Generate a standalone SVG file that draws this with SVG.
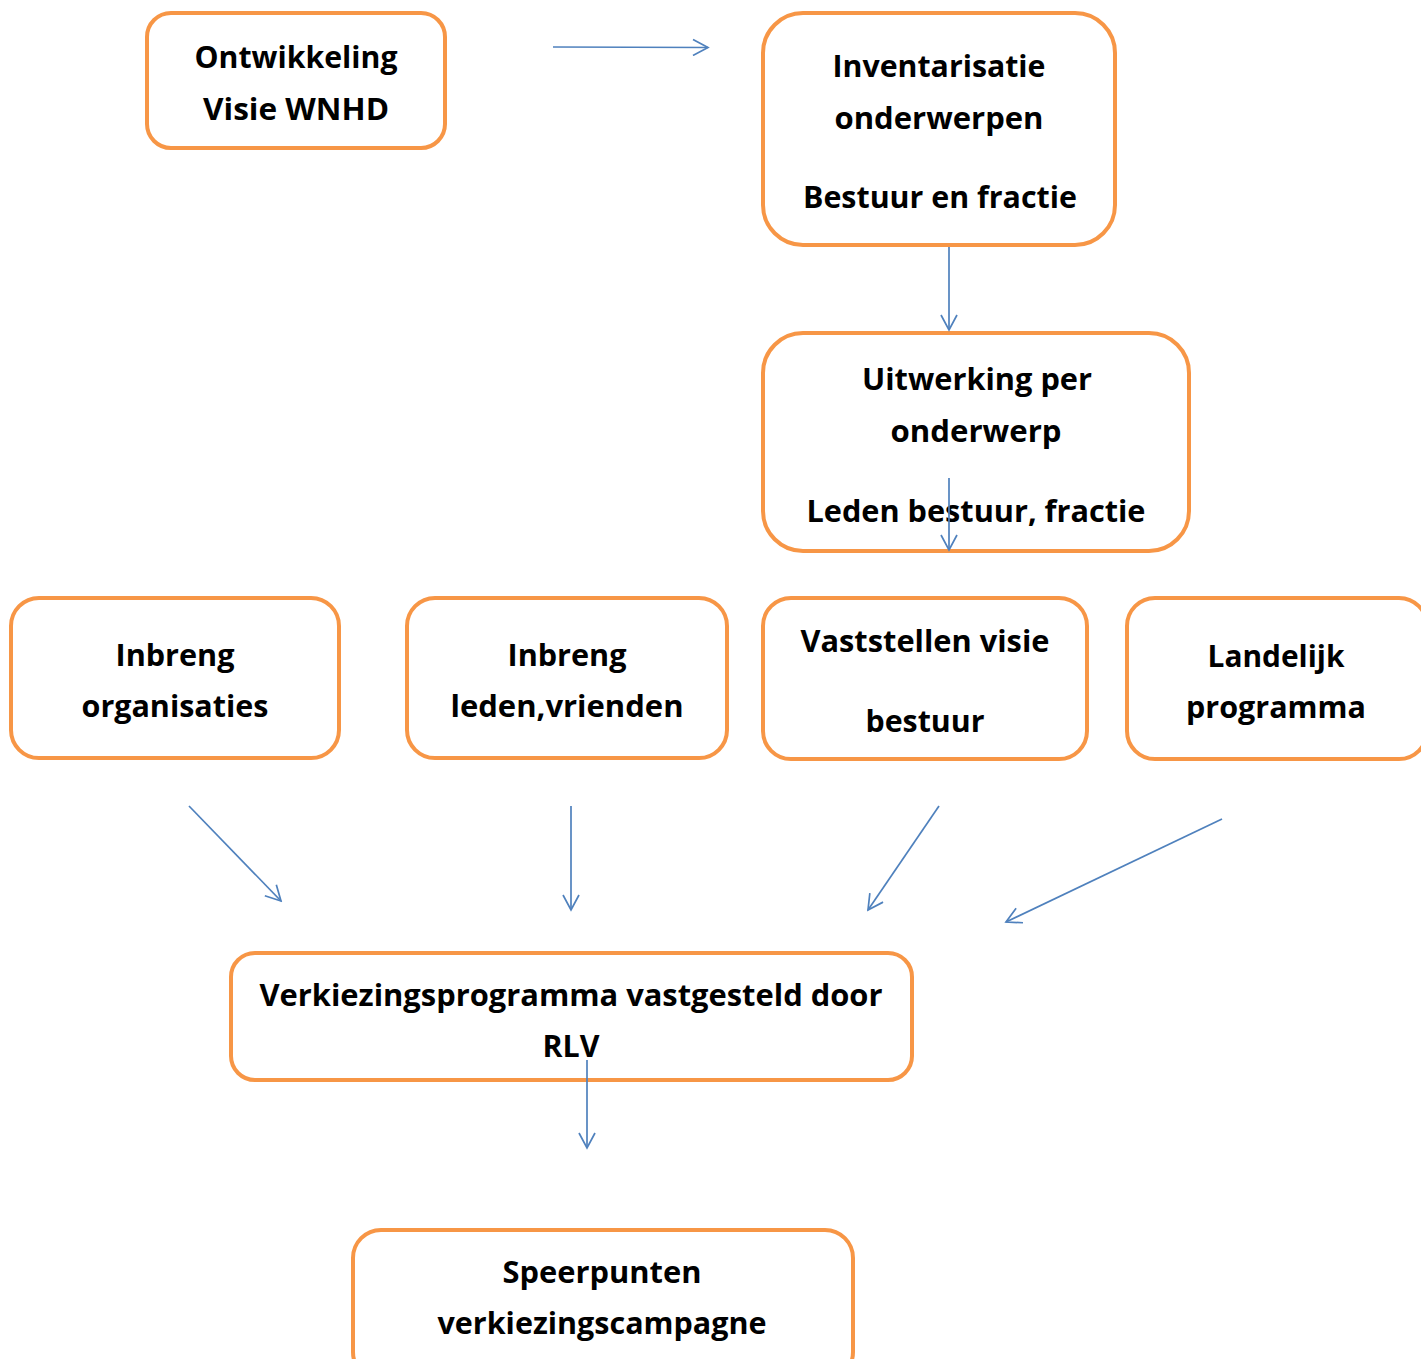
<svg xmlns="http://www.w3.org/2000/svg" width="1421" height="1359" viewBox="0 0 1421 1359">
<style>
.box{fill:#ffffff;stroke:#F79646;stroke-width:4}
.t{font-family:"Open Sans","Liberation Sans",sans-serif;font-weight:bold;font-size:31px;fill:#000000;text-anchor:middle}
.c{fill:none;stroke:#4F81BD;stroke-width:1.7;marker-end:url(#ah)}
</style>
<defs>
<marker id="ah" viewBox="0 0 18 18" refX="16" refY="9" markerWidth="18" markerHeight="18" markerUnits="userSpaceOnUse" orient="auto">
<path d="M1,1 L16,9 L1,17" fill="none" stroke="#4F81BD" stroke-width="1.7"/>
</marker>
</defs>
<rect width="1421" height="1359" fill="#ffffff"/>
<g id="n1"><rect class="box" x="147" y="13" width="298" height="135" rx="24"/>
<text class="t" x="296" y="68" textLength="203" lengthAdjust="spacingAndGlyphs">Ontwikkeling</text>
<text class="t" x="296" y="120" textLength="186" lengthAdjust="spacingAndGlyphs">Visie WNHD</text></g>
<g id="n2"><rect class="box" x="763" y="13" width="352" height="232" rx="40"/>
<text class="t" x="939" y="77" textLength="213" lengthAdjust="spacingAndGlyphs">Inventarisatie</text>
<text class="t" x="939" y="129" textLength="209" lengthAdjust="spacingAndGlyphs">onderwerpen</text>
<text class="t" x="940" y="208" textLength="274" lengthAdjust="spacingAndGlyphs">Bestuur en fractie</text></g>
<g id="n3"><rect class="box" x="763" y="333" width="426" height="218" rx="40"/>
<text class="t" x="977" y="390" textLength="230" lengthAdjust="spacingAndGlyphs">Uitwerking per</text>
<text class="t" x="976" y="442" textLength="171" lengthAdjust="spacingAndGlyphs">onderwerp</text>
<text class="t" x="976" y="522" textLength="339" lengthAdjust="spacingAndGlyphs">Leden bestuur, fractie</text></g>
<g id="n4"><rect class="box" x="11" y="598" width="328" height="160" rx="28"/>
<text class="t" x="175" y="666" textLength="119" lengthAdjust="spacingAndGlyphs">Inbreng</text>
<text class="t" x="175" y="717" textLength="187" lengthAdjust="spacingAndGlyphs">organisaties</text></g>
<g id="n5"><rect class="box" x="407" y="598" width="320" height="160" rx="28"/>
<text class="t" x="567" y="666" textLength="119" lengthAdjust="spacingAndGlyphs">Inbreng</text>
<text class="t" x="567" y="717" textLength="233" lengthAdjust="spacingAndGlyphs">leden,vrienden</text></g>
<g id="n6"><rect class="box" x="763" y="598" width="324" height="161" rx="28"/>
<text class="t" x="925" y="652" textLength="249" lengthAdjust="spacingAndGlyphs">Vaststellen visie</text>
<text class="t" x="925" y="732" textLength="119" lengthAdjust="spacingAndGlyphs">bestuur</text></g>
<g id="n7"><rect class="box" x="1127" y="598" width="300" height="161" rx="28"/>
<text class="t" x="1276" y="667" textLength="137" lengthAdjust="spacingAndGlyphs">Landelijk</text>
<text class="t" x="1276" y="718" textLength="180" lengthAdjust="spacingAndGlyphs">programma</text></g>
<g id="n8"><rect class="box" x="231" y="953" width="681" height="127" rx="24"/>
<text class="t" x="571" y="1006" textLength="623" lengthAdjust="spacingAndGlyphs">Verkiezingsprogramma vastgesteld door</text>
<text class="t" x="571" y="1057" textLength="57" lengthAdjust="spacingAndGlyphs">RLV</text></g>
<g id="n9"><rect class="box" x="353" y="1230" width="500" height="150" rx="28"/>
<text class="t" x="602" y="1283" textLength="199" lengthAdjust="spacingAndGlyphs">Speerpunten</text>
<text class="t" x="602" y="1334" textLength="329" lengthAdjust="spacingAndGlyphs">verkiezingscampagne</text></g>
<g id="connectors">
<line class="c" x1="553" y1="47" x2="708" y2="47.5"/>
<line class="c" x1="949" y1="247" x2="949" y2="330"/>
<line class="c" x1="949" y1="478" x2="949" y2="550"/>
<line class="c" x1="189" y1="806" x2="281" y2="901"/>
<line class="c" x1="571" y1="806" x2="571" y2="910"/>
<line class="c" x1="939" y1="806" x2="868" y2="910"/>
<line class="c" x1="1222" y1="819" x2="1006" y2="922"/>
<line class="c" x1="587" y1="1060" x2="587" y2="1148"/>
</g>
</svg>
